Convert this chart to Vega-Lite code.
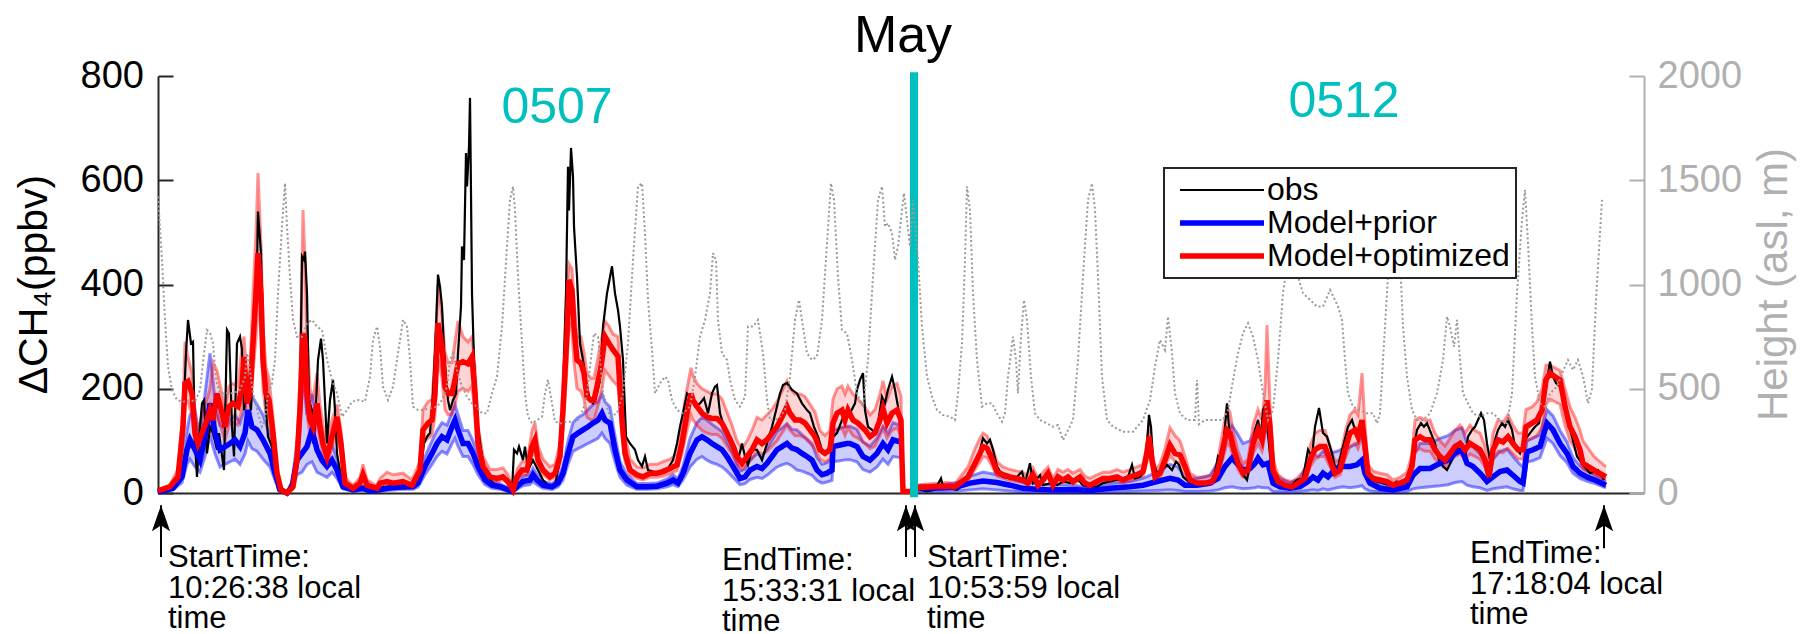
{
"$schema": "https://vega.github.io/schema/vega-lite/v6.json",
"width": 1486, "height": 417,
"autosize": {"type": "none"},
"padding": {"left": 158, "top": 76, "right": 160, "bottom": 141},
"background": "white",
"config": {"font": "Liberation Sans", "view": {"stroke": null}, "axis": {"grid": false}},
"datasets": {
"obs": [{"t":0,"v":2},{"t":12,"v":9},{"t":22,"v":31},{"t":25,"v":127},{"t":28,"v":268},{"t":30,"v":332},{"t":33,"v":287},{"t":35,"v":290},{"t":37,"v":95},{"t":39,"v":31},{"t":42,"v":127},{"t":44,"v":172},{"t":46,"v":178},{"t":49,"v":76},{"t":52,"v":127},{"t":55,"v":115},{"t":59,"v":83},{"t":61,"v":115},{"t":66,"v":44},{"t":69,"v":313},{"t":71,"v":306},{"t":74,"v":127},{"t":76,"v":70},{"t":79,"v":287},{"t":82,"v":300},{"t":84,"v":275},{"t":86,"v":159},{"t":89,"v":223},{"t":93,"v":159},{"t":96,"v":319},{"t":99,"v":428},{"t":100,"v":540},{"t":103,"v":460},{"t":105,"v":287},{"t":108,"v":159},{"t":110,"v":108},{"t":114,"v":89},{"t":117,"v":51},{"t":120,"v":6},{"t":126,"v":0},{"t":130,"v":6},{"t":135,"v":25},{"t":139,"v":63},{"t":142,"v":172},{"t":144,"v":454},{"t":146,"v":447},{"t":147,"v":463},{"t":149,"v":383},{"t":151,"v":178},{"t":154,"v":159},{"t":155,"v":95},{"t":157,"v":127},{"t":160,"v":255},{"t":163,"v":296},{"t":165,"v":255},{"t":169,"v":95},{"t":172,"v":178},{"t":175,"v":217},{"t":177,"v":159},{"t":179,"v":76},{"t":184,"v":19},{"t":192,"v":9},{"t":202,"v":6},{"t":205,"v":12},{"t":212,"v":9},{"t":222,"v":6},{"t":225,"v":12},{"t":232,"v":9},{"t":247,"v":9},{"t":254,"v":12},{"t":262,"v":31},{"t":266,"v":95},{"t":269,"v":108},{"t":272,"v":115},{"t":275,"v":191},{"t":278,"v":319},{"t":280,"v":419},{"t":282,"v":396},{"t":284,"v":358},{"t":286,"v":275},{"t":288,"v":223},{"t":290,"v":178},{"t":292,"v":159},{"t":295,"v":178},{"t":298,"v":191},{"t":300,"v":268},{"t":303,"v":358},{"t":304,"v":473},{"t":306,"v":447},{"t":308,"v":652},{"t":309,"v":588},{"t":311,"v":665},{"t":312,"v":758},{"t":313,"v":575},{"t":314,"v":383},{"t":316,"v":255},{"t":318,"v":191},{"t":320,"v":127},{"t":324,"v":70},{"t":329,"v":31},{"t":335,"v":19},{"t":342,"v":12},{"t":349,"v":9},{"t":354,"v":3},{"t":356,"v":83},{"t":359,"v":76},{"t":361,"v":89},{"t":365,"v":63},{"t":367,"v":89},{"t":370,"v":44},{"t":375,"v":63},{"t":380,"v":44},{"t":385,"v":25},{"t":392,"v":12},{"t":397,"v":15},{"t":402,"v":63},{"t":405,"v":191},{"t":408,"v":383},{"t":410,"v":626},{"t":411,"v":542},{"t":413,"v":662},{"t":415,"v":607},{"t":416,"v":511},{"t":419,"v":415},{"t":422,"v":287},{"t":425,"v":255},{"t":429,"v":204},{"t":432,"v":178},{"t":435,"v":172},{"t":439,"v":191},{"t":442,"v":217},{"t":445,"v":319},{"t":449,"v":383},{"t":454,"v":435},{"t":457,"v":383},{"t":460,"v":351},{"t":462,"v":319},{"t":465,"v":255},{"t":468,"v":108},{"t":472,"v":95},{"t":477,"v":83},{"t":480,"v":63},{"t":484,"v":51},{"t":487,"v":70},{"t":490,"v":44},{"t":495,"v":41},{"t":500,"v":38},{"t":505,"v":44},{"t":510,"v":47},{"t":515,"v":63},{"t":519,"v":95},{"t":522,"v":127},{"t":525,"v":153},{"t":529,"v":191},{"t":532,"v":185},{"t":537,"v":166},{"t":542,"v":172},{"t":546,"v":182},{"t":550,"v":153},{"t":554,"v":191},{"t":557,"v":204},{"t":559,"v":207},{"t":562,"v":153},{"t":567,"v":121},{"t":572,"v":102},{"t":577,"v":89},{"t":580,"v":63},{"t":584,"v":95},{"t":587,"v":70},{"t":590,"v":54},{"t":594,"v":83},{"t":599,"v":83},{"t":604,"v":63},{"t":609,"v":95},{"t":614,"v":127},{"t":619,"v":166},{"t":622,"v":191},{"t":625,"v":207},{"t":629,"v":211},{"t":634,"v":198},{"t":639,"v":191},{"t":644,"v":172},{"t":649,"v":159},{"t":652,"v":153},{"t":656,"v":127},{"t":660,"v":108},{"t":665,"v":76},{"t":670,"v":83},{"t":675,"v":108},{"t":679,"v":115},{"t":684,"v":140},{"t":687,"v":153},{"t":692,"v":153},{"t":697,"v":172},{"t":699,"v":198},{"t":702,"v":217},{"t":705,"v":230},{"t":707,"v":159},{"t":710,"v":127},{"t":714,"v":121},{"t":717,"v":115},{"t":720,"v":134},{"t":724,"v":185},{"t":727,"v":172},{"t":730,"v":198},{"t":734,"v":223},{"t":737,"v":198},{"t":740,"v":166},{"t":743,"v":115},{"t":744,"v":12},{"t":747,"v":3},{"t":762,"v":6},{"t":769,"v":3},{"t":777,"v":6},{"t":783,"v":28},{"t":785,"v":12},{"t":792,"v":9},{"t":799,"v":6},{"t":805,"v":15},{"t":812,"v":38},{"t":817,"v":51},{"t":822,"v":83},{"t":825,"v":105},{"t":829,"v":95},{"t":832,"v":102},{"t":835,"v":83},{"t":839,"v":51},{"t":845,"v":31},{"t":852,"v":28},{"t":859,"v":31},{"t":864,"v":41},{"t":867,"v":19},{"t":872,"v":57},{"t":875,"v":19},{"t":882,"v":34},{"t":885,"v":15},{"t":892,"v":19},{"t":899,"v":15},{"t":905,"v":22},{"t":912,"v":19},{"t":919,"v":28},{"t":925,"v":15},{"t":932,"v":12},{"t":939,"v":12},{"t":945,"v":19},{"t":952,"v":22},{"t":959,"v":25},{"t":965,"v":28},{"t":970,"v":31},{"t":974,"v":54},{"t":977,"v":28},{"t":982,"v":31},{"t":985,"v":38},{"t":989,"v":95},{"t":991,"v":150},{"t":993,"v":127},{"t":995,"v":63},{"t":999,"v":38},{"t":1004,"v":44},{"t":1009,"v":54},{"t":1014,"v":44},{"t":1018,"v":60},{"t":1021,"v":54},{"t":1025,"v":31},{"t":1032,"v":19},{"t":1039,"v":15},{"t":1045,"v":15},{"t":1052,"v":19},{"t":1057,"v":38},{"t":1060,"v":70},{"t":1064,"v":63},{"t":1067,"v":127},{"t":1069,"v":172},{"t":1071,"v":127},{"t":1074,"v":89},{"t":1079,"v":63},{"t":1084,"v":38},{"t":1089,"v":25},{"t":1094,"v":76},{"t":1097,"v":121},{"t":1100,"v":140},{"t":1103,"v":102},{"t":1105,"v":159},{"t":1108,"v":172},{"t":1110,"v":115},{"t":1114,"v":31},{"t":1119,"v":19},{"t":1125,"v":15},{"t":1132,"v":12},{"t":1139,"v":25},{"t":1145,"v":28},{"t":1150,"v":83},{"t":1154,"v":70},{"t":1157,"v":127},{"t":1161,"v":163},{"t":1165,"v":115},{"t":1169,"v":108},{"t":1174,"v":76},{"t":1177,"v":50},{"t":1180,"v":51},{"t":1185,"v":89},{"t":1190,"v":127},{"t":1194,"v":140},{"t":1198,"v":115},{"t":1201,"v":121},{"t":1205,"v":108},{"t":1209,"v":31},{"t":1214,"v":25},{"t":1219,"v":22},{"t":1225,"v":19},{"t":1232,"v":15},{"t":1239,"v":22},{"t":1244,"v":19},{"t":1250,"v":25},{"t":1255,"v":76},{"t":1259,"v":121},{"t":1263,"v":134},{"t":1266,"v":127},{"t":1269,"v":134},{"t":1273,"v":115},{"t":1277,"v":95},{"t":1281,"v":63},{"t":1285,"v":51},{"t":1289,"v":44},{"t":1294,"v":63},{"t":1299,"v":89},{"t":1304,"v":76},{"t":1307,"v":63},{"t":1310,"v":108},{"t":1314,"v":121},{"t":1317,"v":127},{"t":1320,"v":140},{"t":1323,"v":153},{"t":1326,"v":140},{"t":1329,"v":95},{"t":1332,"v":63},{"t":1337,"v":102},{"t":1340,"v":121},{"t":1344,"v":134},{"t":1347,"v":127},{"t":1350,"v":140},{"t":1354,"v":121},{"t":1357,"v":89},{"t":1362,"v":76},{"t":1367,"v":102},{"t":1372,"v":115},{"t":1377,"v":127},{"t":1381,"v":134},{"t":1385,"v":185},{"t":1389,"v":217},{"t":1392,"v":252},{"t":1395,"v":223},{"t":1398,"v":211},{"t":1402,"v":204},{"t":1405,"v":191},{"t":1409,"v":140},{"t":1414,"v":108},{"t":1419,"v":70},{"t":1425,"v":54},{"t":1432,"v":38},{"t":1440,"v":44},{"t":1446,"v":25}],
"prior": [{"f":1,"t":0,"v":2,"lo":1,"hi":3},{"f":1,"t":15,"v":9,"lo":6,"hi":12},{"f":1,"t":24,"v":31,"lo":20,"hi":45},{"f":1,"t":29,"v":83,"lo":55,"hi":120},{"f":1,"t":32,"v":102,"lo":65,"hi":150},{"f":1,"t":37,"v":83,"lo":50,"hi":160},{"f":1,"t":42,"v":63,"lo":40,"hi":100},{"f":1,"t":47,"v":108,"lo":70,"hi":190},{"f":1,"t":52,"v":172,"lo":110,"hi":268},{"f":1,"t":57,"v":115,"lo":75,"hi":180},{"f":1,"t":62,"v":83,"lo":50,"hi":130},{"f":1,"t":67,"v":89,"lo":55,"hi":125},{"f":1,"t":72,"v":95,"lo":60,"hi":140},{"f":1,"t":77,"v":102,"lo":65,"hi":150},{"f":1,"t":82,"v":89,"lo":55,"hi":135},{"f":1,"t":87,"v":115,"lo":75,"hi":165},{"f":1,"t":90,"v":159,"lo":100,"hi":210},{"f":1,"t":94,"v":127,"lo":85,"hi":185},{"f":1,"t":99,"v":121,"lo":80,"hi":170},{"f":1,"t":105,"v":102,"lo":65,"hi":150},{"f":1,"t":112,"v":76,"lo":50,"hi":110},{"f":1,"t":117,"v":38,"lo":25,"hi":55},{"f":1,"t":122,"v":6,"lo":3,"hi":10},{"f":1,"t":129,"v":0,"lo":0,"hi":2},{"f":1,"t":134,"v":12,"lo":6,"hi":20},{"f":1,"t":139,"v":63,"lo":35,"hi":100},{"f":1,"t":144,"v":76,"lo":40,"hi":240},{"f":1,"t":149,"v":89,"lo":55,"hi":150},{"f":1,"t":154,"v":121,"lo":60,"hi":190},{"f":1,"t":159,"v":83,"lo":40,"hi":140},{"f":1,"t":164,"v":63,"lo":35,"hi":100},{"f":1,"t":169,"v":51,"lo":30,"hi":80},{"f":1,"t":174,"v":63,"lo":40,"hi":95},{"f":1,"t":179,"v":44,"lo":28,"hi":65},{"f":1,"t":185,"v":12,"lo":8,"hi":18},{"f":1,"t":195,"v":6,"lo":4,"hi":9},{"f":1,"t":205,"v":9,"lo":5,"hi":14},{"f":1,"t":212,"v":4,"lo":2,"hi":7},{"f":1,"t":222,"v":6,"lo":4,"hi":9},{"f":1,"t":229,"v":9,"lo":5,"hi":13},{"f":1,"t":245,"v":12,"lo":7,"hi":17},{"f":1,"t":255,"v":12,"lo":7,"hi":17},{"f":1,"t":260,"v":19,"lo":12,"hi":27},{"f":1,"t":267,"v":51,"lo":35,"hi":70},{"f":1,"t":274,"v":76,"lo":55,"hi":100},{"f":1,"t":279,"v":95,"lo":70,"hi":120},{"f":1,"t":284,"v":108,"lo":80,"hi":135},{"f":1,"t":289,"v":102,"lo":75,"hi":130},{"f":1,"t":294,"v":127,"lo":95,"hi":155},{"f":1,"t":297,"v":140,"lo":105,"hi":170},{"f":1,"t":300,"v":121,"lo":90,"hi":150},{"f":1,"t":305,"v":95,"lo":70,"hi":120},{"f":1,"t":310,"v":95,"lo":70,"hi":120},{"f":1,"t":315,"v":76,"lo":55,"hi":100},{"f":1,"t":320,"v":51,"lo":35,"hi":68},{"f":1,"t":327,"v":25,"lo":16,"hi":35},{"f":1,"t":334,"v":15,"lo":9,"hi":22},{"f":1,"t":342,"v":12,"lo":7,"hi":18},{"f":1,"t":349,"v":7,"lo":4,"hi":11},{"f":1,"t":354,"v":3,"lo":1,"hi":6},{"f":1,"t":359,"v":12,"lo":7,"hi":18},{"f":1,"t":365,"v":22,"lo":14,"hi":32},{"f":1,"t":372,"v":25,"lo":16,"hi":36},{"f":1,"t":375,"v":35,"lo":22,"hi":48},{"f":1,"t":379,"v":25,"lo":16,"hi":36},{"f":1,"t":385,"v":15,"lo":9,"hi":22},{"f":1,"t":394,"v":12,"lo":7,"hi":18},{"f":1,"t":400,"v":19,"lo":12,"hi":27},{"f":1,"t":405,"v":38,"lo":25,"hi":52},{"f":1,"t":410,"v":76,"lo":55,"hi":100},{"f":1,"t":415,"v":108,"lo":80,"hi":135},{"f":1,"t":420,"v":115,"lo":85,"hi":145},{"f":1,"t":425,"v":121,"lo":90,"hi":150},{"f":1,"t":430,"v":127,"lo":95,"hi":160},{"f":1,"t":435,"v":134,"lo":100,"hi":170},{"f":1,"t":440,"v":140,"lo":105,"hi":175},{"f":1,"t":444,"v":153,"lo":115,"hi":190},{"f":1,"t":447,"v":140,"lo":105,"hi":175},{"f":1,"t":452,"v":134,"lo":95,"hi":165},{"f":1,"t":457,"v":83,"lo":60,"hi":110},{"f":1,"t":462,"v":44,"lo":30,"hi":60},{"f":1,"t":469,"v":25,"lo":15,"hi":35},{"f":1,"t":479,"v":12,"lo":7,"hi":18},{"f":1,"t":489,"v":12,"lo":7,"hi":18},{"f":1,"t":499,"v":13,"lo":8,"hi":19},{"f":1,"t":509,"v":19,"lo":12,"hi":27},{"f":1,"t":515,"v":25,"lo":16,"hi":35},{"f":1,"t":520,"v":19,"lo":12,"hi":27},{"f":1,"t":525,"v":38,"lo":25,"hi":52},{"f":1,"t":532,"v":76,"lo":50,"hi":105},{"f":1,"t":539,"v":102,"lo":65,"hi":135},{"f":1,"t":544,"v":108,"lo":70,"hi":145},{"f":1,"t":549,"v":102,"lo":63,"hi":140},{"f":1,"t":554,"v":95,"lo":58,"hi":132},{"f":1,"t":559,"v":89,"lo":55,"hi":125},{"f":1,"t":564,"v":83,"lo":50,"hi":118},{"f":1,"t":569,"v":70,"lo":42,"hi":100},{"f":1,"t":575,"v":51,"lo":30,"hi":75},{"f":1,"t":582,"v":28,"lo":16,"hi":42},{"f":1,"t":587,"v":31,"lo":18,"hi":46},{"f":1,"t":592,"v":44,"lo":26,"hi":64},{"f":1,"t":599,"v":51,"lo":30,"hi":75},{"f":1,"t":604,"v":47,"lo":28,"hi":70},{"f":1,"t":609,"v":57,"lo":34,"hi":85},{"f":1,"t":614,"v":70,"lo":42,"hi":102},{"f":1,"t":619,"v":83,"lo":50,"hi":118},{"f":1,"t":624,"v":89,"lo":54,"hi":125},{"f":1,"t":629,"v":95,"lo":57,"hi":133},{"f":1,"t":634,"v":86,"lo":52,"hi":122},{"f":1,"t":639,"v":83,"lo":44,"hi":121},{"f":1,"t":644,"v":76,"lo":42,"hi":112},{"f":1,"t":649,"v":70,"lo":38,"hi":104},{"f":1,"t":654,"v":63,"lo":34,"hi":95},{"f":1,"t":659,"v":44,"lo":24,"hi":68},{"f":1,"t":664,"v":35,"lo":19,"hi":55},{"f":1,"t":669,"v":38,"lo":21,"hi":58},{"f":1,"t":674,"v":44,"lo":24,"hi":66},{"f":1,"t":675,"v":89,"lo":60,"hi":120},{"f":1,"t":682,"v":92,"lo":62,"hi":125},{"f":1,"t":689,"v":95,"lo":64,"hi":128},{"f":1,"t":692,"v":95,"lo":64,"hi":128},{"f":1,"t":699,"v":89,"lo":60,"hi":122},{"f":1,"t":705,"v":70,"lo":45,"hi":98},{"f":1,"t":712,"v":63,"lo":40,"hi":90},{"f":1,"t":719,"v":76,"lo":50,"hi":105},{"f":1,"t":725,"v":95,"lo":65,"hi":128},{"f":1,"t":730,"v":83,"lo":55,"hi":115},{"f":1,"t":735,"v":102,"lo":70,"hi":135},{"f":1,"t":742,"v":98,"lo":68,"hi":130},
{"f":2,"t":760,"v":9,"lo":3,"hi":15},{"f":2,"t":772,"v":9,"lo":3,"hi":15},{"f":2,"t":785,"v":10,"lo":3,"hi":16},{"f":2,"t":799,"v":12,"lo":4,"hi":20},{"f":2,"t":812,"v":19,"lo":6,"hi":32},{"f":2,"t":825,"v":23,"lo":8,"hi":40},{"f":2,"t":839,"v":20,"lo":6,"hi":35},{"f":2,"t":852,"v":15,"lo":4,"hi":28},{"f":2,"t":865,"v":9,"lo":2,"hi":20},{"f":2,"t":879,"v":7,"lo":2,"hi":18},{"f":2,"t":892,"v":6,"lo":1,"hi":16},{"f":2,"t":905,"v":6,"lo":1,"hi":16},{"f":2,"t":919,"v":6,"lo":1,"hi":14},{"f":2,"t":932,"v":5,"lo":1,"hi":12},{"f":2,"t":952,"v":9,"lo":2,"hi":18},{"f":2,"t":972,"v":12,"lo":3,"hi":22},{"f":2,"t":985,"v":15,"lo":4,"hi":28},{"f":2,"t":999,"v":22,"lo":5,"hi":40},{"f":2,"t":1012,"v":28,"lo":6,"hi":55},{"f":2,"t":1020,"v":25,"lo":5,"hi":50},{"f":2,"t":1027,"v":15,"lo":3,"hi":30},{"f":2,"t":1039,"v":15,"lo":3,"hi":28},{"f":2,"t":1052,"v":19,"lo":4,"hi":34},{"f":2,"t":1060,"v":28,"lo":6,"hi":60},{"f":2,"t":1067,"v":51,"lo":10,"hi":110},{"f":2,"t":1074,"v":67,"lo":12,"hi":130},{"f":2,"t":1079,"v":57,"lo":10,"hi":115},{"f":2,"t":1085,"v":44,"lo":8,"hi":95},{"f":2,"t":1092,"v":47,"lo":9,"hi":100},{"f":2,"t":1097,"v":57,"lo":10,"hi":120},{"f":2,"t":1100,"v":67,"lo":12,"hi":135},{"f":2,"t":1105,"v":54,"lo":10,"hi":115},{"f":2,"t":1110,"v":57,"lo":10,"hi":120},{"f":2,"t":1115,"v":19,"lo":3,"hi":45},{"f":2,"t":1122,"v":12,"lo":2,"hi":28},{"f":2,"t":1132,"v":9,"lo":2,"hi":20},{"f":2,"t":1142,"v":12,"lo":3,"hi":28},{"f":2,"t":1150,"v":22,"lo":5,"hi":60},{"f":2,"t":1155,"v":31,"lo":6,"hi":75},{"f":2,"t":1160,"v":25,"lo":5,"hi":70},{"f":2,"t":1165,"v":38,"lo":8,"hi":80},{"f":2,"t":1170,"v":31,"lo":6,"hi":70},{"f":2,"t":1175,"v":41,"lo":8,"hi":78},{"f":2,"t":1179,"v":47,"lo":10,"hi":80},{"f":2,"t":1185,"v":51,"lo":12,"hi":85},{"f":2,"t":1192,"v":51,"lo":10,"hi":88},{"f":2,"t":1199,"v":54,"lo":12,"hi":95},{"f":2,"t":1204,"v":63,"lo":14,"hi":110},{"f":2,"t":1207,"v":38,"lo":8,"hi":75},{"f":2,"t":1212,"v":19,"lo":4,"hi":35},{"f":2,"t":1222,"v":9,"lo":2,"hi":16},{"f":2,"t":1235,"v":6,"lo":1,"hi":12},{"f":2,"t":1249,"v":12,"lo":3,"hi":22},{"f":2,"t":1255,"v":34,"lo":8,"hi":70},{"f":2,"t":1262,"v":47,"lo":10,"hi":95},{"f":2,"t":1272,"v":47,"lo":12,"hi":95},{"f":2,"t":1282,"v":57,"lo":14,"hi":105},{"f":2,"t":1290,"v":63,"lo":16,"hi":110},{"f":2,"t":1297,"v":76,"lo":20,"hi":120},{"f":2,"t":1304,"v":83,"lo":22,"hi":125},{"f":2,"t":1309,"v":57,"lo":15,"hi":95},{"f":2,"t":1315,"v":51,"lo":12,"hi":90},{"f":2,"t":1322,"v":38,"lo":10,"hi":75},{"f":2,"t":1329,"v":22,"lo":5,"hi":55},{"f":2,"t":1335,"v":31,"lo":8,"hi":65},{"f":2,"t":1342,"v":41,"lo":10,"hi":80},{"f":2,"t":1349,"v":44,"lo":12,"hi":85},{"f":2,"t":1355,"v":34,"lo":8,"hi":70},{"f":2,"t":1362,"v":22,"lo":5,"hi":55},{"f":2,"t":1365,"v":19,"lo":5,"hi":50},{"f":2,"t":1369,"v":79,"lo":60,"hi":100},{"f":2,"t":1375,"v":83,"lo":62,"hi":105},{"f":2,"t":1382,"v":89,"lo":68,"hi":112},{"f":2,"t":1389,"v":134,"lo":105,"hi":160},{"f":2,"t":1395,"v":121,"lo":95,"hi":148},{"f":2,"t":1402,"v":95,"lo":72,"hi":120},{"f":2,"t":1409,"v":76,"lo":58,"hi":98},{"f":2,"t":1415,"v":51,"lo":38,"hi":68},{"f":2,"t":1422,"v":38,"lo":28,"hi":52},{"f":2,"t":1430,"v":30,"lo":22,"hi":42},{"f":2,"t":1437,"v":25,"lo":18,"hi":35},{"f":2,"t":1448,"v":15,"lo":10,"hi":22}],
"opt": [{"t":0,"v":4,"lo":3,"hi":6},{"t":12,"v":12,"lo":9,"hi":16},{"t":20,"v":31,"lo":25,"hi":45},{"t":25,"v":127,"lo":100,"hi":160},{"t":27,"v":210,"lo":170,"hi":290},{"t":30,"v":214,"lo":175,"hi":260},{"t":34,"v":191,"lo":150,"hi":230},{"t":37,"v":115,"lo":90,"hi":150},{"t":40,"v":95,"lo":75,"hi":120},{"t":44,"v":115,"lo":90,"hi":150},{"t":49,"v":140,"lo":110,"hi":180},{"t":52,"v":159,"lo":125,"hi":200},{"t":55,"v":140,"lo":110,"hi":250},{"t":59,"v":191,"lo":150,"hi":235},{"t":64,"v":153,"lo":120,"hi":190},{"t":67,"v":127,"lo":100,"hi":160},{"t":71,"v":166,"lo":130,"hi":205},{"t":75,"v":172,"lo":135,"hi":210},{"t":80,"v":166,"lo":130,"hi":205},{"t":84,"v":204,"lo":160,"hi":280},{"t":86,"v":261,"lo":200,"hi":300},{"t":89,"v":172,"lo":135,"hi":215},{"t":92,"v":191,"lo":150,"hi":235},{"t":95,"v":287,"lo":230,"hi":380},{"t":98,"v":383,"lo":300,"hi":500},{"t":100,"v":460,"lo":380,"hi":614},{"t":103,"v":383,"lo":300,"hi":480},{"t":105,"v":255,"lo":200,"hi":320},{"t":108,"v":191,"lo":150,"hi":240},{"t":111,"v":178,"lo":140,"hi":220},{"t":115,"v":115,"lo":90,"hi":145},{"t":119,"v":38,"lo":30,"hi":50},{"t":123,"v":6,"lo":4,"hi":9},{"t":129,"v":0,"lo":0,"hi":2},{"t":135,"v":12,"lo":9,"hi":18},{"t":139,"v":63,"lo":50,"hi":90},{"t":142,"v":159,"lo":120,"hi":220},{"t":145,"v":306,"lo":240,"hi":543},{"t":147,"v":293,"lo":230,"hi":450},{"t":149,"v":191,"lo":150,"hi":300},{"t":152,"v":140,"lo":110,"hi":200},{"t":155,"v":127,"lo":100,"hi":180},{"t":159,"v":172,"lo":135,"hi":230},{"t":162,"v":127,"lo":100,"hi":170},{"t":165,"v":95,"lo":75,"hi":130},{"t":169,"v":70,"lo":55,"hi":100},{"t":174,"v":108,"lo":85,"hi":140},{"t":179,"v":146,"lo":115,"hi":170},{"t":183,"v":95,"lo":75,"hi":120},{"t":187,"v":19,"lo":15,"hi":30},{"t":195,"v":9,"lo":7,"hi":14},{"t":202,"v":19,"lo":15,"hi":30},{"t":205,"v":35,"lo":28,"hi":55},{"t":209,"v":15,"lo":12,"hi":25},{"t":219,"v":9,"lo":7,"hi":14},{"t":222,"v":19,"lo":15,"hi":28},{"t":229,"v":22,"lo":17,"hi":40},{"t":235,"v":19,"lo":15,"hi":35},{"t":245,"v":22,"lo":17,"hi":38},{"t":254,"v":15,"lo":12,"hi":25},{"t":262,"v":44,"lo":35,"hi":60},{"t":265,"v":121,"lo":95,"hi":160},{"t":270,"v":134,"lo":105,"hi":175},{"t":274,"v":140,"lo":110,"hi":180},{"t":277,"v":191,"lo":150,"hi":260},{"t":280,"v":326,"lo":260,"hi":400},{"t":284,"v":281,"lo":220,"hi":340},{"t":287,"v":204,"lo":160,"hi":270},{"t":290,"v":191,"lo":150,"hi":250},{"t":294,"v":191,"lo":150,"hi":250},{"t":297,"v":217,"lo":170,"hi":290},{"t":300,"v":248,"lo":195,"hi":330},{"t":305,"v":252,"lo":200,"hi":300},{"t":310,"v":248,"lo":195,"hi":290},{"t":314,"v":261,"lo":205,"hi":300},{"t":317,"v":191,"lo":150,"hi":240},{"t":320,"v":95,"lo":75,"hi":130},{"t":325,"v":51,"lo":40,"hi":70},{"t":332,"v":31,"lo":25,"hi":45},{"t":339,"v":28,"lo":22,"hi":45},{"t":345,"v":31,"lo":25,"hi":48},{"t":350,"v":22,"lo":17,"hi":35},{"t":355,"v":6,"lo":4,"hi":10},{"t":359,"v":31,"lo":25,"hi":45},{"t":364,"v":44,"lo":35,"hi":60},{"t":369,"v":44,"lo":35,"hi":60},{"t":374,"v":89,"lo":70,"hi":120},{"t":377,"v":102,"lo":80,"hi":135},{"t":380,"v":63,"lo":50,"hi":90},{"t":385,"v":44,"lo":35,"hi":65},{"t":392,"v":31,"lo":25,"hi":50},{"t":397,"v":38,"lo":30,"hi":55},{"t":402,"v":70,"lo":55,"hi":95},{"t":405,"v":159,"lo":125,"hi":210},{"t":409,"v":306,"lo":240,"hi":390},{"t":411,"v":409,"lo":330,"hi":440},{"t":414,"v":389,"lo":310,"hi":430},{"t":416,"v":319,"lo":250,"hi":370},{"t":419,"v":255,"lo":200,"hi":300},{"t":423,"v":249,"lo":195,"hi":300},{"t":426,"v":230,"lo":180,"hi":270},{"t":429,"v":185,"lo":145,"hi":230},{"t":433,"v":178,"lo":140,"hi":220},{"t":436,"v":178,"lo":140,"hi":220},{"t":439,"v":204,"lo":160,"hi":250},{"t":443,"v":242,"lo":190,"hi":290},{"t":447,"v":300,"lo":235,"hi":330},{"t":451,"v":287,"lo":225,"hi":320},{"t":455,"v":275,"lo":215,"hi":305},{"t":460,"v":262,"lo":205,"hi":300},{"t":464,"v":140,"lo":110,"hi":190},{"t":467,"v":76,"lo":60,"hi":110},{"t":472,"v":44,"lo":35,"hi":65},{"t":479,"v":35,"lo":28,"hi":50},{"t":485,"v":31,"lo":25,"hi":48},{"t":492,"v":38,"lo":30,"hi":55},{"t":499,"v":38,"lo":30,"hi":55},{"t":505,"v":41,"lo":32,"hi":60},{"t":512,"v":47,"lo":37,"hi":65},{"t":519,"v":54,"lo":43,"hi":75},{"t":524,"v":95,"lo":75,"hi":140},{"t":529,"v":153,"lo":120,"hi":200},{"t":533,"v":191,"lo":150,"hi":240},{"t":535,"v":178,"lo":140,"hi":225},{"t":539,"v":166,"lo":130,"hi":210},{"t":544,"v":153,"lo":120,"hi":200},{"t":549,"v":146,"lo":115,"hi":195},{"t":554,"v":143,"lo":112,"hi":190},{"t":559,"v":143,"lo":112,"hi":190},{"t":564,"v":134,"lo":105,"hi":180},{"t":569,"v":115,"lo":90,"hi":155},{"t":574,"v":95,"lo":75,"hi":130},{"t":579,"v":70,"lo":55,"hi":100},{"t":584,"v":57,"lo":45,"hi":85},{"t":589,"v":70,"lo":55,"hi":100},{"t":594,"v":83,"lo":65,"hi":120},{"t":599,"v":102,"lo":80,"hi":145},{"t":604,"v":95,"lo":75,"hi":140},{"t":609,"v":102,"lo":80,"hi":150},{"t":614,"v":115,"lo":90,"hi":160},{"t":619,"v":127,"lo":100,"hi":175},{"t":624,"v":146,"lo":115,"hi":195},{"t":629,"v":166,"lo":130,"hi":215},{"t":632,"v":153,"lo":120,"hi":200},{"t":637,"v":140,"lo":110,"hi":190},{"t":642,"v":140,"lo":110,"hi":190},{"t":647,"v":134,"lo":105,"hi":185},{"t":652,"v":121,"lo":95,"hi":170},{"t":657,"v":108,"lo":85,"hi":155},{"t":662,"v":83,"lo":65,"hi":120},{"t":667,"v":76,"lo":60,"hi":110},{"t":672,"v":83,"lo":65,"hi":120},{"t":675,"v":134,"lo":105,"hi":180},{"t":679,"v":153,"lo":120,"hi":200},{"t":684,"v":159,"lo":125,"hi":205},{"t":687,"v":140,"lo":110,"hi":190},{"t":690,"v":159,"lo":125,"hi":205},{"t":695,"v":140,"lo":110,"hi":190},{"t":700,"v":134,"lo":105,"hi":180},{"t":707,"v":121,"lo":95,"hi":165},{"t":712,"v":108,"lo":85,"hi":150},{"t":717,"v":115,"lo":90,"hi":160},{"t":722,"v":140,"lo":110,"hi":190},{"t":725,"v":162,"lo":125,"hi":215},{"t":729,"v":134,"lo":105,"hi":180},{"t":734,"v":153,"lo":120,"hi":205},{"t":739,"v":159,"lo":125,"hi":210},{"t":743,"v":140,"lo":110,"hi":185},{"t":744,"v":63,"lo":50,"hi":80},{"t":745,"v":3,"lo":2,"hi":5},{"t":752,"v":3,"lo":2,"hi":5},{"t":762,"v":11,"lo":8,"hi":16},{"t":775,"v":12,"lo":9,"hi":18},{"t":789,"v":13,"lo":10,"hi":20},{"t":797,"v":12,"lo":9,"hi":18},{"t":804,"v":22,"lo":17,"hi":35},{"t":810,"v":31,"lo":24,"hi":50},{"t":817,"v":57,"lo":45,"hi":85},{"t":822,"v":76,"lo":60,"hi":105},{"t":825,"v":89,"lo":70,"hi":115},{"t":829,"v":86,"lo":68,"hi":110},{"t":834,"v":66,"lo":52,"hi":90},{"t":839,"v":41,"lo":32,"hi":60},{"t":845,"v":35,"lo":28,"hi":50},{"t":852,"v":31,"lo":24,"hi":45},{"t":859,"v":28,"lo":22,"hi":42},{"t":865,"v":25,"lo":20,"hi":40},{"t":870,"v":19,"lo":15,"hi":32},{"t":875,"v":35,"lo":28,"hi":48},{"t":880,"v":15,"lo":12,"hi":28},{"t":885,"v":25,"lo":20,"hi":40},{"t":890,"v":38,"lo":30,"hi":50},{"t":895,"v":15,"lo":12,"hi":28},{"t":900,"v":31,"lo":24,"hi":45},{"t":905,"v":25,"lo":20,"hi":40},{"t":910,"v":31,"lo":24,"hi":45},{"t":915,"v":22,"lo":17,"hi":38},{"t":922,"v":31,"lo":24,"hi":45},{"t":927,"v":19,"lo":15,"hi":32},{"t":932,"v":15,"lo":12,"hi":28},{"t":939,"v":22,"lo":17,"hi":35},{"t":945,"v":28,"lo":22,"hi":40},{"t":952,"v":28,"lo":22,"hi":40},{"t":959,"v":31,"lo":24,"hi":45},{"t":965,"v":25,"lo":20,"hi":40},{"t":972,"v":31,"lo":24,"hi":45},{"t":979,"v":35,"lo":28,"hi":50},{"t":985,"v":41,"lo":32,"hi":55},{"t":989,"v":76,"lo":60,"hi":95},{"t":991,"v":108,"lo":85,"hi":130},{"t":994,"v":63,"lo":50,"hi":85},{"t":997,"v":31,"lo":24,"hi":45},{"t":1002,"v":38,"lo":30,"hi":55},{"t":1007,"v":63,"lo":50,"hi":85},{"t":1012,"v":92,"lo":72,"hi":125},{"t":1017,"v":76,"lo":60,"hi":110},{"t":1022,"v":73,"lo":57,"hi":100},{"t":1027,"v":51,"lo":40,"hi":70},{"t":1032,"v":25,"lo":20,"hi":38},{"t":1039,"v":19,"lo":15,"hi":30},{"t":1047,"v":19,"lo":15,"hi":30},{"t":1054,"v":22,"lo":17,"hi":35},{"t":1059,"v":38,"lo":30,"hi":55},{"t":1064,"v":76,"lo":60,"hi":110},{"t":1069,"v":121,"lo":95,"hi":165},{"t":1072,"v":115,"lo":90,"hi":155},{"t":1075,"v":89,"lo":70,"hi":120},{"t":1080,"v":57,"lo":45,"hi":80},{"t":1085,"v":38,"lo":30,"hi":55},{"t":1090,"v":44,"lo":35,"hi":65},{"t":1095,"v":95,"lo":75,"hi":130},{"t":1100,"v":121,"lo":95,"hi":160},{"t":1104,"v":102,"lo":80,"hi":140},{"t":1107,"v":140,"lo":110,"hi":200},{"t":1109,"v":178,"lo":140,"hi":322},{"t":1112,"v":127,"lo":100,"hi":170},{"t":1115,"v":44,"lo":35,"hi":65},{"t":1120,"v":22,"lo":17,"hi":35},{"t":1127,"v":15,"lo":12,"hi":25},{"t":1134,"v":12,"lo":9,"hi":22},{"t":1140,"v":19,"lo":15,"hi":30},{"t":1147,"v":28,"lo":22,"hi":45},{"t":1152,"v":63,"lo":50,"hi":90},{"t":1157,"v":83,"lo":65,"hi":115},{"t":1162,"v":89,"lo":70,"hi":120},{"t":1167,"v":89,"lo":70,"hi":120},{"t":1172,"v":63,"lo":50,"hi":90},{"t":1177,"v":38,"lo":30,"hi":60},{"t":1182,"v":44,"lo":35,"hi":65},{"t":1187,"v":83,"lo":65,"hi":115},{"t":1192,"v":115,"lo":90,"hi":150},{"t":1197,"v":121,"lo":95,"hi":160},{"t":1200,"v":108,"lo":85,"hi":150},{"t":1204,"v":140,"lo":110,"hi":230},{"t":1207,"v":89,"lo":70,"hi":130},{"t":1210,"v":38,"lo":30,"hi":55},{"t":1215,"v":28,"lo":22,"hi":42},{"t":1222,"v":25,"lo":20,"hi":38},{"t":1229,"v":22,"lo":17,"hi":35},{"t":1235,"v":15,"lo":12,"hi":25},{"t":1242,"v":19,"lo":15,"hi":30},{"t":1249,"v":25,"lo":20,"hi":40},{"t":1254,"v":51,"lo":40,"hi":75},{"t":1257,"v":102,"lo":80,"hi":140},{"t":1262,"v":108,"lo":85,"hi":145},{"t":1267,"v":102,"lo":80,"hi":140},{"t":1272,"v":102,"lo":80,"hi":140},{"t":1277,"v":83,"lo":65,"hi":115},{"t":1282,"v":70,"lo":55,"hi":100},{"t":1287,"v":63,"lo":50,"hi":90},{"t":1292,"v":76,"lo":60,"hi":105},{"t":1297,"v":89,"lo":70,"hi":120},{"t":1302,"v":95,"lo":75,"hi":130},{"t":1307,"v":83,"lo":65,"hi":115},{"t":1312,"v":95,"lo":75,"hi":130},{"t":1317,"v":89,"lo":70,"hi":120},{"t":1322,"v":83,"lo":65,"hi":115},{"t":1327,"v":63,"lo":50,"hi":90},{"t":1331,"v":31,"lo":24,"hi":50},{"t":1335,"v":83,"lo":65,"hi":115},{"t":1340,"v":102,"lo":80,"hi":140},{"t":1345,"v":98,"lo":77,"hi":135},{"t":1350,"v":108,"lo":85,"hi":150},{"t":1355,"v":95,"lo":75,"hi":130},{"t":1360,"v":83,"lo":65,"hi":115},{"t":1365,"v":83,"lo":65,"hi":115},{"t":1368,"v":127,"lo":100,"hi":160},{"t":1374,"v":134,"lo":105,"hi":165},{"t":1379,"v":140,"lo":110,"hi":175},{"t":1384,"v":159,"lo":125,"hi":200},{"t":1388,"v":217,"lo":170,"hi":245},{"t":1392,"v":230,"lo":180,"hi":245},{"t":1397,"v":223,"lo":175,"hi":240},{"t":1402,"v":217,"lo":170,"hi":235},{"t":1407,"v":166,"lo":130,"hi":200},{"t":1412,"v":127,"lo":100,"hi":165},{"t":1417,"v":108,"lo":85,"hi":145},{"t":1422,"v":83,"lo":65,"hi":120},{"t":1425,"v":57,"lo":45,"hi":100},{"t":1436,"v":44,"lo":35,"hi":70},{"t":1448,"v":31,"lo":25,"hi":50}],
"height": [{"t":0,"h":1422},{"t":4,"h":1118},{"t":7,"h":830},{"t":10,"h":606},{"t":14,"h":494},{"t":19,"h":446},{"t":25,"h":438},{"t":32,"h":446},{"t":37,"h":438},{"t":42,"h":494},{"t":46,"h":670},{"t":49,"h":782},{"t":52,"h":766},{"t":55,"h":718},{"t":58,"h":542},{"t":62,"h":478},{"t":69,"h":478},{"t":75,"h":478},{"t":82,"h":494},{"t":87,"h":558},{"t":89,"h":670},{"t":91,"h":622},{"t":95,"h":478},{"t":100,"h":382},{"t":104,"h":318},{"t":107,"h":350},{"t":110,"h":478},{"t":114,"h":526},{"t":117,"h":638},{"t":120,"h":958},{"t":124,"h":1278},{"t":127,"h":1486},{"t":129,"h":1278},{"t":132,"h":1038},{"t":135,"h":830},{"t":139,"h":750},{"t":144,"h":750},{"t":149,"h":814},{"t":154,"h":830},{"t":159,"h":798},{"t":164,"h":782},{"t":169,"h":638},{"t":174,"h":542},{"t":179,"h":478},{"t":184,"h":366},{"t":189,"h":398},{"t":194,"h":438},{"t":200,"h":446},{"t":207,"h":438},{"t":212,"h":558},{"t":215,"h":734},{"t":219,"h":798},{"t":222,"h":700},{"t":225,"h":510},{"t":230,"h":446},{"t":235,"h":510},{"t":240,"h":670},{"t":245,"h":830},{"t":249,"h":798},{"t":252,"h":638},{"t":255,"h":414},{"t":260,"h":398},{"t":265,"h":398},{"t":272,"h":406},{"t":279,"h":414},{"t":284,"h":446},{"t":289,"h":510},{"t":292,"h":638},{"t":295,"h":670},{"t":299,"h":590},{"t":304,"h":510},{"t":309,"h":462},{"t":314,"h":430},{"t":319,"h":414},{"t":324,"h":382},{"t":329,"h":382},{"t":334,"h":478},{"t":339,"h":558},{"t":344,"h":798},{"t":349,"h":1182},{"t":352,"h":1406},{"t":355,"h":1470},{"t":357,"h":1358},{"t":360,"h":1038},{"t":364,"h":718},{"t":367,"h":478},{"t":370,"h":366},{"t":374,"h":334},{"t":379,"h":350},{"t":384,"h":366},{"t":387,"h":478},{"t":390,"h":542},{"t":394,"h":430},{"t":397,"h":342},{"t":402,"h":334},{"t":409,"h":342},{"t":415,"h":342},{"t":420,"h":350},{"t":425,"h":398},{"t":429,"h":478},{"t":432,"h":606},{"t":436,"h":766},{"t":440,"h":750},{"t":445,"h":478},{"t":452,"h":366},{"t":459,"h":382},{"t":465,"h":478},{"t":470,"h":718},{"t":475,"h":1118},{"t":480,"h":1470},{"t":484,"h":1486},{"t":487,"h":1246},{"t":490,"h":926},{"t":494,"h":686},{"t":497,"h":478},{"t":502,"h":526},{"t":507,"h":558},{"t":510,"h":542},{"t":514,"h":446},{"t":519,"h":398},{"t":525,"h":382},{"t":532,"h":414},{"t":537,"h":558},{"t":542,"h":750},{"t":547,"h":830},{"t":552,"h":958},{"t":555,"h":1150},{"t":558,"h":1118},{"t":560,"h":830},{"t":564,"h":670},{"t":569,"h":638},{"t":572,"h":542},{"t":577,"h":446},{"t":582,"h":414},{"t":587,"h":462},{"t":590,"h":798},{"t":595,"h":798},{"t":600,"h":830},{"t":605,"h":670},{"t":609,"h":446},{"t":612,"h":350},{"t":617,"h":350},{"t":622,"h":366},{"t":627,"h":398},{"t":632,"h":558},{"t":637,"h":830},{"t":641,"h":926},{"t":645,"h":798},{"t":649,"h":670},{"t":654,"h":638},{"t":659,"h":654},{"t":664,"h":830},{"t":669,"h":1198},{"t":673,"h":1486},{"t":676,"h":1406},{"t":680,"h":1038},{"t":684,"h":782},{"t":689,"h":766},{"t":694,"h":638},{"t":699,"h":478},{"t":705,"h":414},{"t":710,"h":638},{"t":715,"h":1038},{"t":720,"h":1406},{"t":724,"h":1470},{"t":727,"h":1278},{"t":730,"h":1294},{"t":734,"h":1246},{"t":737,"h":1118},{"t":740,"h":1182},{"t":744,"h":1358},{"t":746,"h":1438},{"t":749,"h":1310},{"t":752,"h":1182},{"t":755,"h":1406},{"t":757,"h":1300},{"t":760,"h":1118},{"t":764,"h":798},{"t":769,"h":558},{"t":774,"h":462},{"t":779,"h":398},{"t":785,"h":374},{"t":792,"h":366},{"t":797,"h":350},{"t":800,"h":478},{"t":804,"h":718},{"t":807,"h":1118},{"t":809,"h":1470},{"t":812,"h":1358},{"t":815,"h":958},{"t":819,"h":638},{"t":824,"h":414},{"t":829,"h":430},{"t":834,"h":430},{"t":839,"h":382},{"t":844,"h":342},{"t":847,"h":382},{"t":850,"h":558},{"t":855,"h":750},{"t":858,"h":638},{"t":860,"h":478},{"t":863,"h":750},{"t":866,"h":926},{"t":869,"h":830},{"t":873,"h":558},{"t":877,"h":382},{"t":882,"h":350},{"t":889,"h":334},{"t":895,"h":318},{"t":900,"h":326},{"t":905,"h":254},{"t":910,"h":302},{"t":915,"h":350},{"t":920,"h":638},{"t":925,"h":1038},{"t":930,"h":1406},{"t":934,"h":1486},{"t":937,"h":1358},{"t":940,"h":1038},{"t":944,"h":558},{"t":949,"h":350},{"t":955,"h":318},{"t":965,"h":294},{"t":975,"h":294},{"t":985,"h":350},{"t":992,"h":446},{"t":997,"h":606},{"t":1002,"h":734},{"t":1007,"h":686},{"t":1010,"h":846},{"t":1014,"h":670},{"t":1017,"h":478},{"t":1022,"h":382},{"t":1029,"h":350},{"t":1034,"h":350},{"t":1037,"h":350},{"t":1039,"h":542},{"t":1041,"h":330},{"t":1047,"h":350},{"t":1054,"h":350},{"t":1060,"h":350},{"t":1065,"h":350},{"t":1070,"h":398},{"t":1075,"h":542},{"t":1080,"h":670},{"t":1085,"h":766},{"t":1090,"h":814},{"t":1095,"h":750},{"t":1100,"h":638},{"t":1105,"h":478},{"t":1110,"h":350},{"t":1115,"h":398},{"t":1120,"h":638},{"t":1125,"h":958},{"t":1130,"h":1118},{"t":1135,"h":1350},{"t":1140,"h":1038},{"t":1145,"h":958},{"t":1152,"h":926},{"t":1159,"h":894},{"t":1165,"h":894},{"t":1172,"h":974},{"t":1177,"h":926},{"t":1180,"h":894},{"t":1184,"h":830},{"t":1187,"h":638},{"t":1190,"h":478},{"t":1195,"h":414},{"t":1202,"h":398},{"t":1209,"h":382},{"t":1215,"h":382},{"t":1219,"h":334},{"t":1222,"h":382},{"t":1225,"h":638},{"t":1229,"h":958},{"t":1233,"h":1300},{"t":1237,"h":1350},{"t":1241,"h":1200},{"t":1243,"h":1022},{"t":1245,"h":798},{"t":1249,"h":558},{"t":1254,"h":398},{"t":1259,"h":350},{"t":1265,"h":350},{"t":1272,"h":382},{"t":1279,"h":478},{"t":1285,"h":638},{"t":1289,"h":846},{"t":1292,"h":798},{"t":1296,"h":702},{"t":1299,"h":830},{"t":1302,"h":638},{"t":1305,"h":478},{"t":1310,"h":430},{"t":1315,"h":382},{"t":1322,"h":366},{"t":1329,"h":382},{"t":1335,"h":382},{"t":1342,"h":350},{"t":1349,"h":334},{"t":1354,"h":478},{"t":1359,"h":958},{"t":1364,"h":1310},{"t":1367,"h":1454},{"t":1370,"h":1198},{"t":1374,"h":798},{"t":1377,"h":558},{"t":1382,"h":430},{"t":1387,"h":414},{"t":1392,"h":478},{"t":1399,"h":510},{"t":1404,"h":574},{"t":1407,"h":606},{"t":1410,"h":638},{"t":1415,"h":590},{"t":1420,"h":638},{"t":1425,"h":560},{"t":1430,"h":430},{"t":1434,"h":500},{"t":1438,"h":926},{"t":1444,"h":1406}],
"sep": [{"t":756,"top":807,"bottom":-8}],
"month": [{"t":745,"v":845.5,"label":"May"}],
"flights": [{"t":399,"v":709,"label":"0507"},{"t":1186,"v":721,"label":"0512"}],
"notes": [{"t":10,"v":-142.5,"label":"StartTime:\n10:26:38 local\ntime"},{"t":564,"v":-148.3,"label":"EndTime:\n15:33:31 local\ntime"},{"t":769,"v":-142.5,"label":"StartTime:\n10:53:59 local\ntime"},{"t":1312,"v":-134.9,"label":"EndTime:\n17:18:04 local\ntime"}],
"arrows": [{"t":3,"tip":-23.6,"tail":-123},{"t":748,"tip":-23.6,"tail":-123},{"t":757,"tip":-23.6,"tail":-123},{"t":1446,"tip":-23.6,"tail":-106}]
},
"layer": [
{"layer": [
 {"data": {"name": "prior"}, "mark": {"type": "area", "color": "#0000ff", "opacity": 0.2},
  "encoding": {
   "x": {"field": "t", "type": "quantitative", "scale": {"domain": [0, 1486], "nice": false, "zero": false}, "axis": {"orient": "bottom", "labels": false, "ticks": false, "title": null, "domainColor": "#262626", "domainWidth": 2, "grid": false}},
   "y": {"field": "lo", "type": "quantitative", "title": "ΔCH₄(ppbv)", "scale": {"domain": [0, 800], "nice": false}, "axis": {"orient": "left", "values": [0, 200, 400, 600, 800], "title": "ΔCH₄(ppbv)", "titleFont": "Liberation Sans", "titleFontSize": 41, "titleFontWeight": "normal", "titleColor": "black", "titleAngle": 270, "titleAlign": "center", "titleBaseline": "alphabetic", "titleX": -112, "titleY": 208, "labelFont": "Liberation Sans", "labelFontSize": 38, "labelColor": "black", "labelPadding": 29.5, "tickSize": -15, "tickColor": "#262626", "tickWidth": 2, "domainColor": "#262626", "domainWidth": 2, "grid": false, "labelOverlap": false}},
   "y2": {"field": "hi"},
   "detail": {"field": "f"}}},
 {"data": {"name": "prior"}, "mark": {"type": "line", "color": "#0000ff", "opacity": 0.45, "strokeWidth": 3},
  "encoding": {"x": {"field": "t", "type": "quantitative", "title": null, "scale": {"domain": [0, 1486]}}, "y": {"field": "lo", "type": "quantitative", "title": "ΔCH₄(ppbv)", "scale": {"domain": [0, 800]}}, "detail": {"field": "f"}}},
 {"data": {"name": "prior"}, "mark": {"type": "line", "color": "#0000ff", "opacity": 0.45, "strokeWidth": 3},
  "encoding": {"x": {"field": "t", "type": "quantitative", "title": null, "scale": {"domain": [0, 1486]}}, "y": {"field": "hi", "type": "quantitative", "title": "ΔCH₄(ppbv)", "scale": {"domain": [0, 800]}}, "detail": {"field": "f"}}},
 {"data": {"name": "opt"}, "mark": {"type": "area", "color": "#ff0000", "opacity": 0.17},
  "encoding": {"x": {"field": "t", "type": "quantitative", "title": null, "scale": {"domain": [0, 1486]}}, "y": {"field": "lo", "type": "quantitative", "title": "ΔCH₄(ppbv)", "scale": {"domain": [0, 800]}}, "y2": {"field": "hi"}}},
 {"data": {"name": "opt"}, "mark": {"type": "line", "color": "#ff0000", "opacity": 0.42, "strokeWidth": 3},
  "encoding": {"x": {"field": "t", "type": "quantitative", "title": null, "scale": {"domain": [0, 1486]}}, "y": {"field": "lo", "type": "quantitative", "title": "ΔCH₄(ppbv)", "scale": {"domain": [0, 800]}}}},
 {"data": {"name": "opt"}, "mark": {"type": "line", "color": "#ff0000", "opacity": 0.42, "strokeWidth": 3},
  "encoding": {"x": {"field": "t", "type": "quantitative", "title": null, "scale": {"domain": [0, 1486]}}, "y": {"field": "hi", "type": "quantitative", "title": "ΔCH₄(ppbv)", "scale": {"domain": [0, 800]}}}},
 {"data": {"name": "obs"}, "mark": {"type": "line", "strokeWidth": 2.2},
  "encoding": {"x": {"field": "t", "type": "quantitative", "title": null, "scale": {"domain": [0, 1486]}}, "y": {"field": "v", "type": "quantitative", "title": "ΔCH₄(ppbv)", "scale": {"domain": [0, 800]}},
   "color": {"datum": "obs", "type": "nominal", "scale": {"domain": ["obs", "Model+prior", "Model+optimized"], "range": ["#000000", "#0000ff", "#ff0000"]},
    "legend": {"orient": "none", "legendX": 1006, "legendY": 92, "title": null, "symbolType": "M-3.5,0H3.5", "symbolSize": 576, "symbolStrokeWidth": 5, "symbolOffset": 36, "symbolFillColor": "transparent", "labelFont": "Liberation Sans", "labelFontSize": 32, "labelColor": "black", "labelOffset": 29, "labelLimit": 400, "rowPadding": 1, "padding": 6, "fillColor": "white", "strokeColor": "#262626",
     "encode": {"symbols": {"update": {"strokeWidth": {"signal": "datum.value === 'obs' ? 2 : 5.5"}}}, "legend": {"update": {"strokeWidth": {"value": 2}}}}}}}},
 {"data": {"name": "prior"}, "mark": {"type": "line", "strokeWidth": 5.5},
  "encoding": {"x": {"field": "t", "type": "quantitative", "title": null, "scale": {"domain": [0, 1486]}}, "y": {"field": "v", "type": "quantitative", "title": "ΔCH₄(ppbv)", "scale": {"domain": [0, 800]}}, "detail": {"field": "f"}, "color": {"datum": "Model+prior", "type": "nominal"}}},
 {"data": {"name": "opt"}, "mark": {"type": "line", "strokeWidth": 5.5},
  "encoding": {"x": {"field": "t", "type": "quantitative", "title": null, "scale": {"domain": [0, 1486]}}, "y": {"field": "v", "type": "quantitative", "title": "ΔCH₄(ppbv)", "scale": {"domain": [0, 800]}}, "color": {"datum": "Model+optimized", "type": "nominal"}}},
 {"data": {"name": "sep"}, "mark": {"type": "rule", "color": "#00bfbf", "strokeWidth": 8},
  "encoding": {"x": {"field": "t", "type": "quantitative", "title": null, "scale": {"domain": [0, 1486]}}, "y": {"field": "top", "type": "quantitative", "title": "ΔCH₄(ppbv)", "scale": {"domain": [0, 800]}}, "y2": {"field": "bottom"}}},
 {"data": {"name": "month"}, "mark": {"type": "text", "color": "black", "fontSize": 52, "font": "Liberation Sans", "align": "center", "baseline": "alphabetic"},
  "encoding": {"x": {"field": "t", "type": "quantitative", "title": null, "scale": {"domain": [0, 1486]}}, "y": {"field": "v", "type": "quantitative", "title": "ΔCH₄(ppbv)", "scale": {"domain": [0, 800]}}, "text": {"field": "label", "type": "nominal"}}},
 {"data": {"name": "flights"}, "mark": {"type": "text", "color": "#00bfbf", "fontSize": 50, "font": "Liberation Sans", "align": "center", "baseline": "alphabetic"},
  "encoding": {"x": {"field": "t", "type": "quantitative", "title": null, "scale": {"domain": [0, 1486]}}, "y": {"field": "v", "type": "quantitative", "title": "ΔCH₄(ppbv)", "scale": {"domain": [0, 800]}}, "text": {"field": "label", "type": "nominal"}}},
 {"data": {"name": "notes"}, "mark": {"type": "text", "color": "black", "fontSize": 31, "font": "Liberation Sans", "align": "left", "baseline": "alphabetic", "lineBreak": "\n", "lineHeight": 30.5},
  "encoding": {"x": {"field": "t", "type": "quantitative", "title": null, "scale": {"domain": [0, 1486]}}, "y": {"field": "v", "type": "quantitative", "title": "ΔCH₄(ppbv)", "scale": {"domain": [0, 800]}}, "text": {"field": "label", "type": "nominal"}}},
 {"data": {"name": "arrows"}, "mark": {"type": "rule", "color": "black", "strokeWidth": 2},
  "encoding": {"x": {"field": "t", "type": "quantitative", "title": null, "scale": {"domain": [0, 1486]}}, "y": {"field": "tip", "type": "quantitative", "title": "ΔCH₄(ppbv)", "scale": {"domain": [0, 800]}}, "y2": {"field": "tail"}}},
 {"data": {"name": "arrows"}, "mark": {"type": "point", "shape": "M0,-1L0.7,1L0,0.55L-0.7,1Z", "size": 676, "filled": true, "color": "black", "opacity": 1, "yOffset": 13},
  "encoding": {"x": {"field": "t", "type": "quantitative", "title": null, "scale": {"domain": [0, 1486]}}, "y": {"field": "tip", "type": "quantitative", "title": "ΔCH₄(ppbv)", "scale": {"domain": [0, 800]}}}}
]},
{"data": {"name": "height"}, "mark": {"type": "line", "color": "#999999", "strokeWidth": 2, "strokeDash": [2, 2.5]},
 "encoding": {
  "x": {"field": "t", "type": "quantitative", "title": null, "scale": {"domain": [0, 1486]}},
  "y": {"field": "h", "type": "quantitative", "scale": {"domain": [0, 2000], "nice": false}, "axis": {"orient": "right", "values": [0, 500, 1000, 1500, 2000], "format": "d", "title": "Height (asl, m)", "titleFont": "Liberation Sans", "titleFontSize": 42, "titleFontWeight": "normal", "titleColor": "#b0b0b0", "titleAngle": 270, "titleAlign": "center", "titleBaseline": "alphabetic", "titleX": 142, "titleY": 208, "labelFont": "Liberation Sans", "labelFontSize": 38, "labelColor": "#b0b0b0", "labelPadding": 28, "tickSize": -15, "tickColor": "#b0b0b0", "tickWidth": 2, "domainColor": "#b0b0b0", "domainWidth": 2, "grid": false, "labelOverlap": false}}}}
],
"resolve": {"scale": {"y": "independent"}}
}
